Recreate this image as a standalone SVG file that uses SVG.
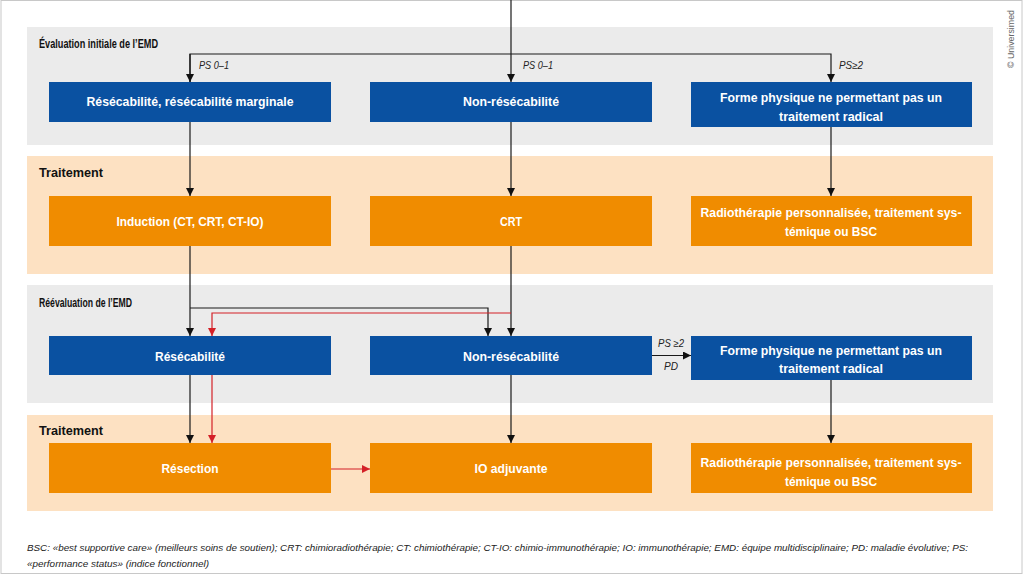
<svg xmlns="http://www.w3.org/2000/svg" width="1024" height="577" viewBox="0 0 1024 577">
<defs>
<style>
.bg{fill:#ffffff}
.gray{fill:#ebebeb}
.peach{fill:#fde1c2}
.blue{fill:#0a51a1}
.orange{fill:#f08c00}
.title{font-family:"Liberation Sans",Arial,sans-serif;font-weight:bold;font-size:13.5px;fill:#111}
.lbl{font-family:"Liberation Sans",Arial,sans-serif;font-weight:bold;font-size:13px;fill:#ffffff;text-anchor:middle}
.ps{font-family:"Liberation Sans",Arial,sans-serif;font-style:italic;font-size:10.5px;fill:#222}
.foot{font-family:"Liberation Sans",Arial,sans-serif;font-style:italic;font-size:9.2px;fill:#222}
.copy{font-family:"Liberation Sans",Arial,sans-serif;font-size:9px;fill:#666}
.k{fill:none;stroke:#1a1a1a;stroke-width:1.2}
.r{fill:none;stroke:#d42027;stroke-width:1.2}
</style>
<marker id="ak" viewBox="0 0 10 10" refX="10" refY="5" markerWidth="9" markerHeight="8" markerUnits="userSpaceOnUse" orient="auto"><path d="M0,0 L10,5 L0,10 z" fill="#111"/></marker>
<marker id="ar" viewBox="0 0 10 10" refX="10" refY="5" markerWidth="9" markerHeight="8" markerUnits="userSpaceOnUse" orient="auto"><path d="M0,0 L10,5 L0,10 z" fill="#d42027"/></marker>
</defs>
<rect class="bg" x="0" y="0" width="1024" height="577"/>
<rect x="1" y="0.5" width="1021" height="573" fill="none" stroke="#c8c8c8" stroke-width="1"/>

<g id="bands">
<rect class="gray" x="27" y="27" width="966" height="118"/>
<rect class="peach" x="27" y="156" width="966" height="118"/>
<rect class="gray" x="27" y="285" width="966" height="118"/>
<rect class="peach" x="27" y="415" width="966" height="96"/>
<text class="title" x="39" y="48" textLength="119" lengthAdjust="spacingAndGlyphs">Évaluation initiale de l’EMD</text>
<text class="title" x="39" y="177" textLength="64" lengthAdjust="spacingAndGlyphs">Traitement</text>
<text class="title" x="39" y="307" textLength="93" lengthAdjust="spacingAndGlyphs">Réévaluation de l’EMD</text>
<text class="title" x="39" y="435" textLength="64" lengthAdjust="spacingAndGlyphs">Traitement</text>
</g>

<g id="connectors">
<path class="k" d="M511,0 V82" marker-end="url(#ak)"/>
<path class="k" d="M190,82 V54 H831 V82" marker-end="url(#ak)"/>
<path class="k" d="M190,54 V82" marker-end="url(#ak)"/>
<path class="k" d="M190,122 V196" marker-end="url(#ak)"/>
<path class="k" d="M511,122 V196" marker-end="url(#ak)"/>
<path class="k" d="M831,127 V196" marker-end="url(#ak)"/>
<path class="k" d="M190,246 V336" marker-end="url(#ak)"/>
<path class="k" d="M190,308 H488 V336" marker-end="url(#ak)"/>
<path class="k" d="M511,246 V336" marker-end="url(#ak)"/>
<path class="r" d="M511,313 H212 V336" marker-end="url(#ar)"/>
<path class="k" d="M652,355.5 H691" marker-end="url(#ak)"/>
<path class="k" d="M190,375 V443" marker-end="url(#ak)"/>
<path class="r" d="M212,375 V443" marker-end="url(#ar)"/>
<path class="k" d="M511,375 V443" marker-end="url(#ak)"/>
<path class="k" d="M831,380 V443" marker-end="url(#ak)"/>
<path class="r" d="M331,469 H370" marker-end="url(#ar)"/>
<text class="ps" x="199" y="69" textLength="30" lengthAdjust="spacingAndGlyphs">PS 0–1</text>
<text class="ps" x="523" y="69" textLength="30" lengthAdjust="spacingAndGlyphs">PS 0–1</text>
<text class="ps" x="839" y="69" textLength="24" lengthAdjust="spacingAndGlyphs">PS≥2</text>
<text class="ps" x="658" y="347" textLength="26" lengthAdjust="spacingAndGlyphs">PS ≥2</text>
<text class="ps" x="664" y="370" textLength="14" lengthAdjust="spacingAndGlyphs">PD</text>
</g>

<g id="n1a"><rect class="blue" x="49" y="82" width="282" height="40"/><text class="lbl" x="190" y="106" textLength="207" lengthAdjust="spacingAndGlyphs">Résécabilité, résécabilité marginale</text></g>
<g id="n1b"><rect class="blue" x="370" y="82" width="282" height="40"/><text class="lbl" x="511" y="106" textLength="96" lengthAdjust="spacingAndGlyphs">Non-résécabilité</text></g>
<g id="n1c"><rect class="blue" x="691" y="82" width="281" height="45"/><text class="lbl" x="831" y="102" textLength="222" lengthAdjust="spacingAndGlyphs">Forme physique ne permettant pas un</text><text class="lbl" x="831" y="121" textLength="104" lengthAdjust="spacingAndGlyphs">traitement radical</text></g>

<g id="n2a"><rect class="orange" x="49" y="196" width="282" height="50"/><text class="lbl" x="190" y="226" textLength="147" lengthAdjust="spacingAndGlyphs">Induction (CT, CRT, CT-IO)</text></g>
<g id="n2b"><rect class="orange" x="370" y="196" width="282" height="50"/><text class="lbl" x="511" y="226" textLength="22" lengthAdjust="spacingAndGlyphs">CRT</text></g>
<g id="n2c"><rect class="orange" x="691" y="196" width="281" height="50"/><text class="lbl" x="831" y="217" textLength="261" lengthAdjust="spacingAndGlyphs">Radiothérapie personnalisée, traitement sys-</text><text class="lbl" x="831" y="236" textLength="92" lengthAdjust="spacingAndGlyphs">témique ou BSC</text></g>

<g id="n3a"><rect class="blue" x="49" y="336" width="282" height="39"/><text class="lbl" x="190" y="361" textLength="70" lengthAdjust="spacingAndGlyphs">Résécabilité</text></g>
<g id="n3b"><rect class="blue" x="370" y="336" width="282" height="39"/><text class="lbl" x="511" y="361" textLength="96" lengthAdjust="spacingAndGlyphs">Non-résécabilité</text></g>
<g id="n3c"><rect class="blue" x="691" y="336" width="281" height="44"/><text class="lbl" x="831" y="355" textLength="222" lengthAdjust="spacingAndGlyphs">Forme physique ne permettant pas un</text><text class="lbl" x="831" y="373" textLength="104" lengthAdjust="spacingAndGlyphs">traitement radical</text></g>

<g id="n4a"><rect class="orange" x="49" y="443" width="282" height="50"/><text class="lbl" x="190" y="473" textLength="57" lengthAdjust="spacingAndGlyphs">Résection</text></g>
<g id="n4b"><rect class="orange" x="370" y="443" width="282" height="50"/><text class="lbl" x="511" y="473" textLength="73" lengthAdjust="spacingAndGlyphs">IO adjuvante</text></g>
<g id="n4c"><rect class="orange" x="691" y="443" width="281" height="50"/><text class="lbl" x="831" y="467" textLength="261" lengthAdjust="spacingAndGlyphs">Radiothérapie personnalisée, traitement sys-</text><text class="lbl" x="831" y="486" textLength="92" lengthAdjust="spacingAndGlyphs">témique ou BSC</text></g>

<g id="footnote">
<text class="foot" x="27" y="551" textLength="941" lengthAdjust="spacingAndGlyphs">BSC: «best supportive care» (meilleurs soins de soutien); CRT: chimioradiothérapie; CT: chimiothérapie; CT-IO: chimio-immunothérapie; IO: immunothérapie; EMD: équipe multidisciplinaire; PD: maladie évolutive; PS:</text>
<text class="foot" x="27" y="567" textLength="182" lengthAdjust="spacingAndGlyphs">«performance status» (indice fonctionnel)</text>
<text class="copy" transform="translate(1014,68) rotate(-90)" textLength="58" lengthAdjust="spacingAndGlyphs">© Universimed</text>
</g>
</svg>
